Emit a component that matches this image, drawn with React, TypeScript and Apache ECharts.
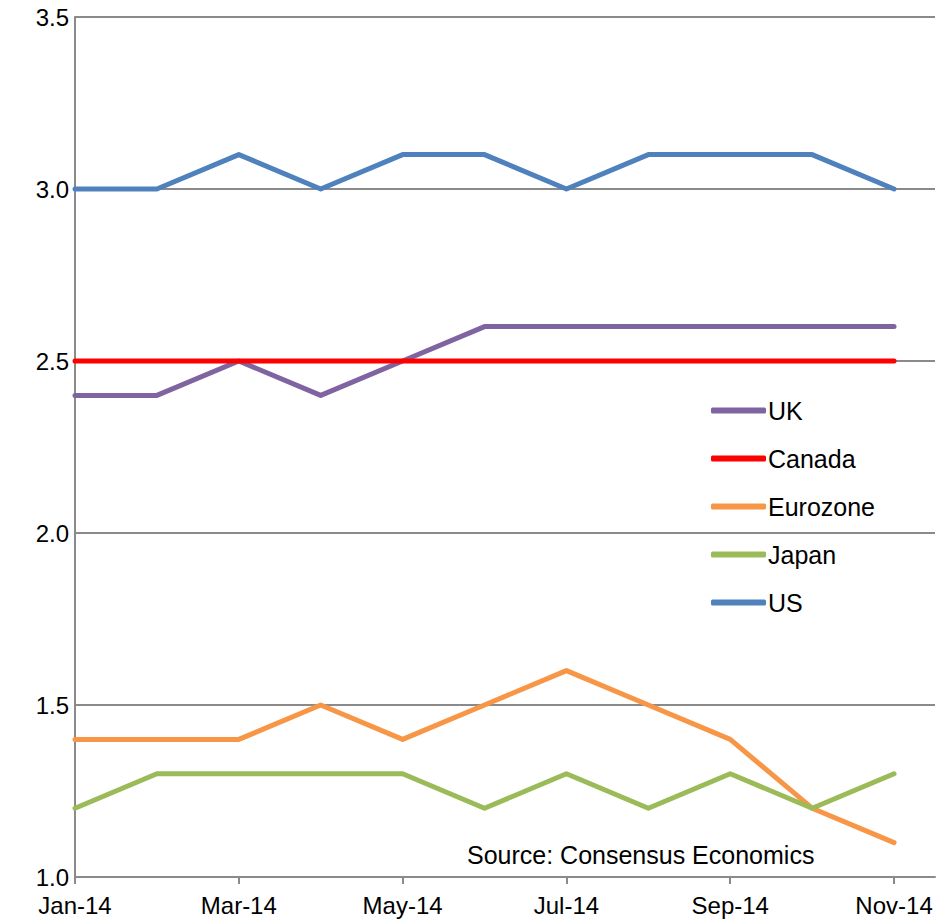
import React, { useEffect, useRef } from "react";
import * as echarts from "echarts";

const months = ["Jan-14", "Feb-14", "Mar-14", "Apr-14", "May-14", "Jun-14", "Jul-14", "Aug-14", "Sep-14", "Oct-14", "Nov-14"];
const uk = [2.4, 2.4, 2.5, 2.4, 2.5, 2.6, 2.6, 2.6, 2.6, 2.6, 2.6];
const canada = [2.5, 2.5, 2.5, 2.5, 2.5, 2.5, 2.5, 2.5, 2.5, 2.5, 2.5];
const eurozone = [1.4, 1.4, 1.4, 1.5, 1.4, 1.5, 1.6, 1.5, 1.4, 1.2, 1.1];
const japan = [1.2, 1.3, 1.3, 1.3, 1.3, 1.2, 1.3, 1.2, 1.3, 1.2, 1.3];
const us = [3.0, 3.0, 3.1, 3.0, 3.1, 3.1, 3.0, 3.1, 3.1, 3.1, 3.0];
const xTicks = [0, 2, 4, 6, 8, 10];
const yTicks = [1.0, 1.5, 2.0, 2.5, 3.0, 3.5];
const sourceText = "Source: Consensus Economics";

const seriesDefs = [
  { name: "UK", data: uk, color: "#8064A2" },
  { name: "Canada", data: canada, color: "#FF0000" },
  { name: "Eurozone", data: eurozone, color: "#F79646" },
  { name: "Japan", data: japan, color: "#9BBB59" },
  { name: "US", data: us, color: "#4F81BD" },
];

const FONT = "'Liberation Sans', Arial, sans-serif";
const GRID_COLOR = "#8a8a8a";

export default function App() {
  const ref = useRef<HTMLDivElement>(null);
  useEffect(() => {
    if (!ref.current) return;
    const chart = echarts.init(ref.current, undefined, { renderer: "svg" });
    chart.setOption({
      animation: false,
      backgroundColor: "#ffffff",
      textStyle: { fontFamily: FONT },
      grid: { left: 75, right: 16, top: 17, bottom: 44, containLabel: false },
      xAxis: {
        type: "value",
        min: 0,
        max: 10.5,
        interval: 2,
        splitLine: { show: false },
        axisLine: { show: true, lineStyle: { color: GRID_COLOR, width: 2 } },
        axisTick: {
          show: true,
          inside: false,
          length: 7,
          customValues: xTicks,
          lineStyle: { color: GRID_COLOR, width: 2 },
        },
        axisLabel: {
          customValues: xTicks,
          margin: 16,
          color: "#000",
          fontSize: 24,
          fontFamily: FONT,
          formatter: (v: number) => months[Math.round(v)] ?? "",
        },
      },
      yAxis: {
        type: "value",
        min: 1.0,
        max: 3.5,
        interval: 0.5,
        axisLine: { show: true, lineStyle: { color: GRID_COLOR, width: 2 } },
        axisTick: { show: false },
        splitLine: { show: true, lineStyle: { color: GRID_COLOR, width: 2 } },
        axisLabel: {
          customValues: yTicks,
          margin: 6,
          color: "#000",
          fontSize: 24,
          fontFamily: FONT,
          formatter: (v: number) => v.toFixed(1),
        },
      },
      legend: {
        orient: "vertical",
        left: 706,
        top: 393,
        icon: "roundRect",
        itemWidth: 55,
        itemHeight: 6,
        itemGap: 23,
        textStyle: { fontSize: 25, color: "#000", fontFamily: FONT, padding: [0, 0, 0, -3] },
        data: seriesDefs.map((s) => s.name),
      },
      graphic: [
        {
          type: "text",
          left: 467,
          top: 842,
          style: { text: sourceText, fontSize: 25, fill: "#000", fontFamily: FONT },
        },
      ],
      series: seriesDefs.map((s) => ({
        name: s.name,
        type: "line",
        symbol: "none",
        color: s.color,
        lineStyle: { color: s.color, width: 5, cap: "round", join: "round" },
        data: s.data.map((v, i) => [i, v]),
      })),
    });
    return () => chart.dispose();
  }, []);
  return <div ref={ref} style={{ width: 951, height: 921, position: "absolute", left: 0, top: 0 }} />;
}
